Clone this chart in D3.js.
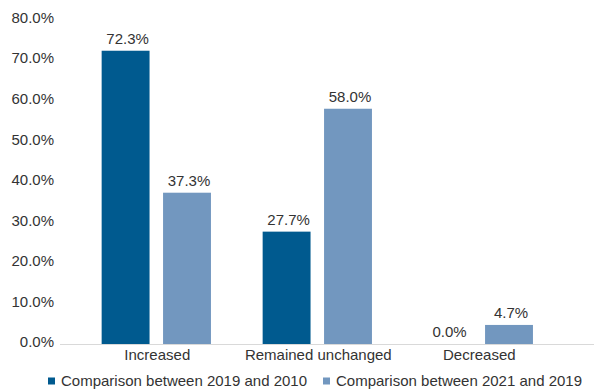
<!DOCTYPE html>
<html>
<head>
<meta charset="utf-8">
<script src="https://cdn.jsdelivr.net/npm/d3@7"></script>
<style>
  html, body { margin: 0; padding: 0; background: #fff; }
  svg { display: block; font-family: "Liberation Sans", Arial, Helvetica, sans-serif; }
</style>
</head>
<body>
<svg id="chart" width="594" height="389"></svg>
<script>
// Share of responses per category, two comparison periods
const categories = ["Increased", "Remained unchanged", "Decreased"];
const seriesNames = ["Comparison between 2019 and 2010", "Comparison between 2021 and 2019"];
const values2019vs2010 = [72.3, 27.7, 0.0];
const values2021vs2019 = [37.3, 58.0, 4.7];
const yTicks = [0, 10, 20, 30, 40, 50, 60, 70, 80];
const colors = ["#005a8f", "#7297bf"];

const svg = d3.select("#chart");
const textColor = "#333333";

const y = d3.scaleLinear().domain([0, 80]).range([344, 19.5]);
const x = d3.scaleBand().domain(categories).range([75.8, 558.8]).padding(0);
const inner = d3.scaleBand().domain([0, 1]).range([0, 109.3]).paddingInner(0.22);

// y axis tick labels
const yAxis = d3.axisLeft(y).tickValues(yTicks).tickSize(0).tickPadding(0)
  .tickFormat(d => d3.format(".1f")(d) + "%");
const yG = svg.append("g").attr("transform", "translate(54,-2)").call(yAxis);
yG.select(".domain").remove();
yG.selectAll("text").attr("font-size", 15).attr("fill", textColor)
  .attr("font-family", "Liberation Sans, Arial, sans-serif");

// baseline
svg.append("line")
  .attr("x1", 60).attr("x2", 594)
  .attr("y1", y(0) + 0.5).attr("y2", y(0) + 0.5)
  .attr("stroke", "#d9d9d9").attr("stroke-width", 1);

// bars
const data = categories.map((c, i) => ({
  cat: c,
  vals: [values2019vs2010[i], values2021vs2019[i]]
}));
const groups = svg.selectAll("g.cat").data(data).join("g")
  .attr("class", "cat")
  .attr("transform", d => `translate(${x(d.cat) + x.bandwidth() / 2 - 54.65},0)`);

groups.selectAll("rect").data(d => d.vals.map((v, s) => ({v, s}))).join("rect")
  .attr("x", d => inner(d.s))
  .attr("width", inner.bandwidth())
  .attr("y", d => y(d.v))
  .attr("height", d => y(0) - y(d.v))
  .attr("fill", d => colors[d.s]);

groups.selectAll("text.val").data(d => d.vals.map((v, s) => ({v, s}))).join("text")
  .attr("class", "val")
  .attr("x", d => inner(d.s) + inner.bandwidth() / 2 + 2)
  .attr("y", d => y(d.v) - 7)
  .attr("text-anchor", "middle")
  .attr("font-size", 15)
  .attr("fill", textColor)
  .text(d => d3.format(".1f")(d.v) + "%");

// category labels
const xAxis = d3.axisBottom(x).tickSize(0).tickPadding(0);
const xG = svg.append("g").attr("transform", "translate(1,349)").call(xAxis);
xG.select(".domain").remove();
xG.selectAll("text").attr("font-size", 15).attr("fill", textColor)
  .attr("font-family", "Liberation Sans, Arial, sans-serif");

// legend
const legendX = [48, 323];
const legend = svg.selectAll("g.legend").data(seriesNames).join("g")
  .attr("class", "legend")
  .attr("transform", (d, i) => `translate(${legendX[i]},0)`);
legend.append("rect")
  .attr("x", 0).attr("y", 377.5).attr("width", 7).attr("height", 7)
  .attr("fill", (d, i) => colors[i]);
legend.append("text")
  .attr("x", 13).attr("y", 386)
  .attr("font-size", 15).attr("fill", textColor)
  .text(d => d);
</script>
</body>
</html>
